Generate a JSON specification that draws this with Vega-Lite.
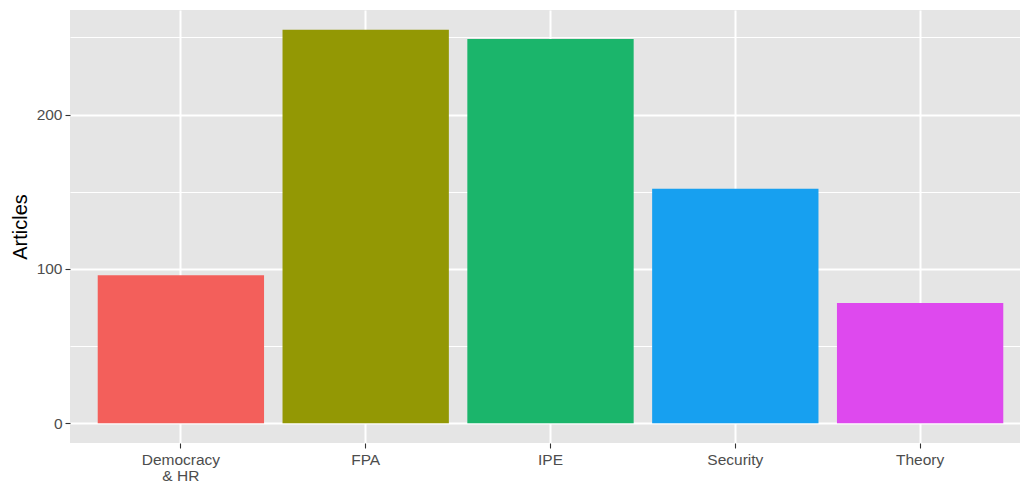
{
  "$schema": "https://vega.github.io/schema/vega-lite/v6.json",
  "autosize": {"type": "none"},
  "width": 961,
  "height": 433,
  "padding": {"left": 70, "top": 10, "right": 0, "bottom": 46},
  "background": "white",
  "config": {
    "view": {"fill": "#E5E5E5", "stroke": null},
    "font": "Liberation Sans",
    "axis": {
      "domain": false,
      "gridColor": "white",
      "tickColor": "#333333",
      "tickSize": 5,
      "tickWidth": 1.1,
      "labelColor": "#4D4D4D",
      "labelFontSize": 15.5,
      "labelFont": "Liberation Sans",
      "titleFont": "Liberation Sans",
      "titleColor": "black",
      "titleFontWeight": "normal"
    }
  },
  "data": {
    "values": [
      {"topic": "Democracy & HR", "articles": 96},
      {"topic": "FPA", "articles": 255},
      {"topic": "IPE", "articles": 249},
      {"topic": "Security", "articles": 152},
      {"topic": "Theory", "articles": 78}
    ]
  },
  "mark": {"type": "bar"},
  "encoding": {
    "x": {
      "field": "topic",
      "type": "nominal",
      "sort": null,
      "scale": {"paddingInner": 0.1, "paddingOuter": 0.15},
      "axis": {
        "title": null,
        "labelAngle": 0,
        "bandPosition": 0.5,
        "grid": true,
        "gridWidth": 2,
        "labelPadding": 4,
        "labelLineHeight": 16,
        "labelExpr": "datum.label == 'Democracy & HR' ? ['Democracy', '& HR'] : datum.label"
      }
    },
    "y": {
      "field": "articles",
      "type": "quantitative",
      "scale": {"domain": [-12.75, 267.75], "nice": false, "zero": false},
      "axis": {
        "title": "Articles",
        "titleFontSize": 20,
        "titlePadding": 6,
        "values": [0, 50, 100, 150, 200, 250],
        "labelExpr": "datum.value % 100 === 0 ? datum.label : ''",
        "gridWidth": {"condition": {"test": "datum.value % 100 === 0", "value": 2}, "value": 1},
        "tickOpacity": {"condition": {"test": "datum.value % 100 === 0", "value": 1}, "value": 0},
        "labelPadding": 3,
        "grid": true
      }
    },
    "color": {
      "field": "topic",
      "type": "nominal",
      "sort": null,
      "legend": null,
      "scale": {"range": ["#F35F5B", "#939804", "#1BB56B", "#17A0F0", "#DE49EE"]}
    }
  }
}
